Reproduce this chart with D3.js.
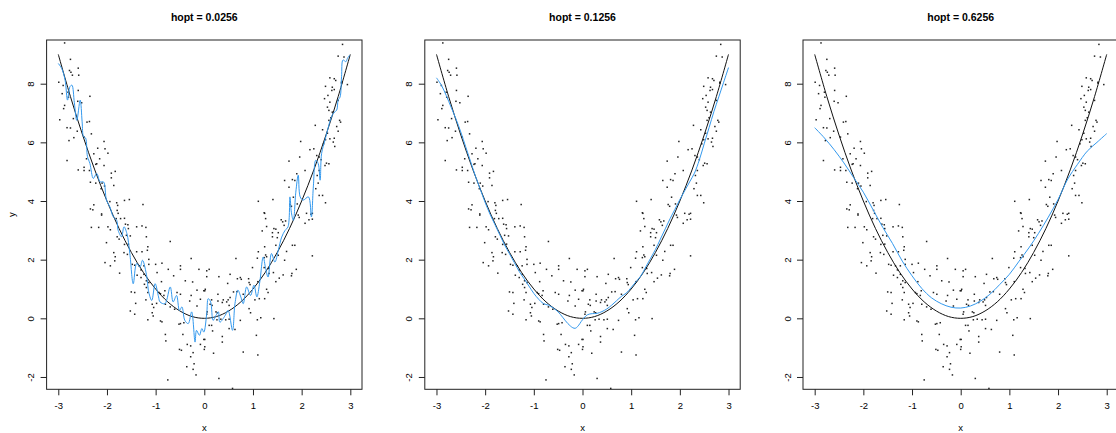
<!DOCTYPE html>
<html>
<head>
<meta charset="utf-8">
<script src="https://cdn.jsdelivr.net/npm/d3@7"></script>
<style>
  body { margin: 0; background: #fff; }
  svg { display: block; }
  text { font-family: "Liberation Sans", Arial, sans-serif; fill: #000; }
</style>
</head>
<body>
<svg id="chart" width="1116" height="433"></svg>
<script>
const titles = ["hopt = 0.0256", "hopt = 0.1256", "hopt = 0.6256"];
const xTicks = [-3, -2, -1, 0, 1, 2, 3];
const yTicks = [-2, 0, 2, 4, 6, 8];

// simulated sample
const points = [
  [-2.87,9.39],[-2.75,8.83],[-2.77,8.45],[-2.74,8.39],[-2.71,8.29],[-2.59,8.53],[-2.58,8.29],[-2.99,8.05],
  [-2.90,7.94],[-2.92,7.66],[-2.80,7.71],[-2.79,7.54],[-2.59,7.77],[-2.60,7.40],[-2.52,7.35],[-2.35,7.57],
  [-2.87,7.26],[-2.89,7.15],[-2.97,6.77],[-2.69,6.81],[-2.41,6.69],[-2.36,6.71],[-2.82,6.50],[-2.75,6.49],
  [-2.61,6.38],[-2.32,6.29],[-2.68,6.16],[-2.78,6.06],[-2.47,6.18],[-2.06,6.03],[-2.19,5.80],[-2.04,5.78],
  [-1.98,5.63],[-2.27,5.61],[-2.15,5.44],[-2.82,5.38],[-2.42,5.44],[-2.23,5.25],[-2.21,5.27],[-2.06,5.21],
  [-2.59,5.06],[-2.47,5.04],[-2.47,5.15],[-2.36,5.04],[-1.83,5.01],[-1.91,4.95],[-1.91,4.79],[-2.34,4.64],
  [-2.23,4.61],[-2.10,4.61],[-2.12,4.42],[-1.86,4.53],[-2.05,4.51],[-1.64,4.02],[-1.54,4.05],[-1.80,3.94],
  [-1.78,3.85],[-1.79,3.68],[-1.94,3.98],[-1.26,3.88],[-2.27,3.87],[-2.34,3.73],[-2.29,3.70],[-2.11,3.56],
  [-1.77,3.58],[-2.11,3.52],[-2.32,3.10],[-2.17,3.10],[-1.98,3.12],[-1.93,3.02],[-1.81,3.40],[-1.72,3.40],
  [-1.64,3.41],[-1.62,3.21],[-1.57,3.19],[-1.56,3.06],[-1.39,3.12],[-1.28,3.15],[-1.20,3.10],[-1.79,2.78],
  [-1.75,2.70],[-1.60,2.83],[-1.52,2.81],[-1.19,2.78],[-2.01,2.58],[-1.64,2.52],[-1.56,2.53],[-1.16,2.44],
  [-0.70,2.62],[-1.86,2.24],[-1.83,2.10],[-1.65,2.24],[-1.58,2.18],[-1.39,2.27],[-1.28,2.27],[-1.17,2.32],
  [-2.04,1.90],[-1.93,1.79],[-1.84,1.96],[-1.48,1.84],[-1.43,1.81],[-1.34,1.79],[-1.30,1.65],[-1.24,1.79],
  [-1.14,2.01],[-1.14,1.84],[-1.00,1.84],[-0.87,1.88],[-0.74,1.67],[-0.49,1.79],[-0.49,1.67],[-0.27,2.04],
  [-1.74,1.54],[-1.38,1.47],[-1.30,1.39],[-1.24,1.50],[-1.19,1.28],[-1.14,1.22],[-1.23,1.16],[-0.97,1.56],
  [-0.88,1.25],[-0.63,1.45],[-0.39,1.28],[-0.24,1.24],[-0.11,1.67],[-1.50,0.90],[-1.43,0.88],[-1.19,1.05],
  [-1.16,0.88],[-0.93,0.88],[-0.90,0.84],[-0.81,0.94],[-0.83,0.78],[-0.56,0.88],[-0.49,0.82],[-0.27,0.78],
  [-0.15,0.96],[-0.01,0.94],[0.02,0.99],[-1.41,0.51],[-1.20,0.63],[-1.07,0.48],[-1.04,0.37],[-0.98,0.51],
  [-0.80,0.48],[-0.70,0.39],[-0.61,0.31],[-0.30,0.59],[-0.15,0.42],[-0.08,0.65],[-1.52,0.25],[-1.43,0.14],
  [-1.16,-0.05],[-1.07,0.19],[-1.05,0.08],[-0.90,-0.09],[-0.87,-0.12],[-0.52,-0.20],[-0.49,-0.18],[-0.42,-0.15],
  [-0.80,-0.55],[-0.79,-0.77],[-0.44,-0.55],[-0.35,-0.89],[-0.28,-0.94],[-0.08,-0.89],[-0.01,-0.72],[0.00,-1.06],
  [-0.51,-1.06],[-0.47,-1.09],[-0.28,-1.31],[-0.23,-1.17],[-0.36,-1.65],[-0.21,-1.55],[-0.23,-1.74],[-0.17,-1.93],
  [-0.75,-2.10],
  [1.24,3.58],[1.26,3.40],[1.28,3.13],[1.19,2.98],[1.43,3.06],[1.47,3.04],[1.40,2.92],[1.40,2.78],
  [1.58,3.36],[1.61,3.29],[1.64,3.17],[1.67,3.32],[1.50,2.75],[1.52,2.92],[2.07,3.24],[2.15,3.36],
  [2.22,3.38],[2.19,3.55],[1.93,3.52],[1.95,3.44],[1.81,2.49],[1.86,2.49],[2.22,2.13],[1.24,2.44],
  [1.26,2.16],[1.28,2.10],[1.23,2.07],[1.11,2.27],[1.09,2.05],[1.47,2.49],[1.52,2.15],[1.65,1.98],
  [1.69,2.28],[0.65,2.04],[0.99,1.73],[1.23,1.73],[1.32,1.70],[1.33,1.53],[1.42,1.56],[1.47,1.25],
  [1.54,1.37],[1.62,1.48],[1.80,1.53],[1.79,1.45],[1.89,1.67],[0.05,1.62],[0.10,1.67],[0.05,1.42],
  [0.30,1.42],[0.53,1.50],[0.68,1.35],[0.74,1.39],[0.76,1.33],[0.48,1.19],[0.91,1.35],[0.92,1.22],
  [0.94,1.15],[1.10,1.25],[1.28,0.99],[1.31,0.88],[0.01,0.94],[0.28,0.82],[0.28,0.59],[0.60,0.90],
  [0.67,0.91],[0.80,0.82],[0.15,0.63],[0.12,0.48],[0.16,0.44],[0.37,0.54],[0.39,0.63],[0.46,0.56],
  [0.49,0.63],[0.53,0.71],[0.51,0.44],[1.04,0.63],[1.13,0.67],[1.24,0.67],[0.92,0.33],[0.95,0.19],
  [0.06,0.22],[0.05,0.14],[0.24,0.22],[0.27,0.19],[0.44,-0.05],[0.34,-0.03],[0.51,-0.03],[0.26,-0.05],
  [0.74,-0.07],[1.09,-0.05],[1.16,0.02],[1.43,-0.01],[0.10,-0.24],[0.15,-0.24],[0.17,-0.43],[0.51,-0.35],
  [0.63,-0.38],[0.01,-0.72],[0.01,-0.97],[0.37,-0.62],[0.37,-0.81],[1.07,-0.58],[0.19,-1.19],[0.80,-1.15],
  [1.10,-1.25],[0.30,-2.05],[0.58,-2.39],
  [2.84,9.34],[2.75,8.94],[2.87,8.91],[2.58,8.20],[2.67,8.17],[2.70,8.11],[2.82,8.02],[2.82,8.05],
  [2.94,7.97],[2.49,7.91],[2.63,7.88],[2.67,7.80],[2.62,7.77],[2.54,7.60],[2.47,7.49],[2.58,7.37],
  [2.75,7.43],[2.53,7.20],[2.56,7.09],[2.63,7.03],[2.78,6.75],[2.80,6.69],[2.60,6.84],[2.56,6.75],
  [2.72,6.54],[2.75,6.38],[2.28,6.58],[2.43,6.43],[2.53,6.31],[2.58,6.12],[2.67,6.14],[2.65,6.01],
  [2.68,5.86],[1.98,6.03],[2.17,5.75],[2.25,5.78],[2.49,6.09],[2.45,5.95],[1.96,5.50],[2.31,5.55],
  [2.36,5.50],[2.40,5.41],[1.74,5.36],[2.51,5.29],[2.56,5.27],[2.48,5.21],[2.07,5.04],[2.36,5.04],
  [2.32,4.87],[1.90,4.93],[1.65,4.70],[1.81,4.73],[1.86,4.70],[2.34,4.61],[1.74,4.47],[2.29,4.42],
  [2.36,4.19],[2.43,4.19],[1.83,4.13],[1.11,3.99],[1.41,4.05],[2.49,3.94],[1.76,3.88],[1.79,3.82],
  [1.91,3.90],[1.23,3.60],[2.10,3.58],[2.22,3.58]
];

// true regression function
const truthX = [-3,-2.75,-2.5,-2.25,-2,-1.75,-1.5,-1.25,-1,-0.75,-0.5,-0.25,0,0.25,0.5,0.75,1,1.25,1.5,1.75,2,2.25,2.5,2.75,3];
const truthY = [9,7.56,6.25,5.06,4,3.06,2.25,1.56,1,0.56,0.25,0.06,0,0.06,0.25,0.56,1,1.56,2.25,3.06,4,5.06,6.25,7.56,9];

// kernel fits for the three bandwidths
const fitSmall = [
  [-3.00,8.69],[-2.93,8.52],[-2.86,8.12],[-2.81,7.44],[-2.76,7.90],[-2.72,7.95],[-2.67,7.35],[-2.62,6.75],
  [-2.55,7.44],[-2.51,6.70],[-2.48,6.19],[-2.44,6.15],[-2.40,5.51],[-2.35,5.28],[-2.28,4.77],[-2.21,4.94],
  [-2.14,4.65],[-2.07,4.65],[-2.01,4.03],[-1.94,3.80],[-1.87,3.46],[-1.80,3.34],[-1.77,3.00],[-1.70,2.78],
  [-1.65,3.12],[-1.59,2.89],[-1.53,2.21],[-1.46,1.18],[-1.39,1.87],[-1.32,1.75],[-1.27,1.98],[-1.18,1.41],
  [-1.15,0.96],[-1.08,0.61],[-1.01,1.18],[-0.94,0.73],[-0.91,0.56],[-0.81,0.50],[-0.70,1.07],[-0.64,0.56],
  [-0.57,0.78],[-0.51,0.27],[-0.46,0.39],[-0.40,-0.07],[-0.33,-0.18],[-0.26,0.22],[-0.19,-0.81],[-0.16,-0.41],
  [-0.10,-0.58],[-0.05,-0.35],[-0.01,-0.47],[0.05,0.16],[0.08,0.67],[0.13,0.56],[0.18,-0.07],[0.24,0.10],
  [0.29,0.22],[0.32,-0.13],[0.43,0.10],[0.49,0.27],[0.58,-0.41],[0.63,0.50],[0.69,0.96],[0.75,0.73],
  [0.80,0.50],[0.87,1.07],[0.95,0.78],[1.02,1.13],[1.08,0.73],[1.14,1.24],[1.21,2.09],[1.26,1.70],
  [1.31,1.41],[1.38,2.21],[1.45,1.92],[1.52,2.32],[1.59,2.77],[1.66,3.00],[1.72,3.12],[1.76,4.14],
  [1.79,3.60],[1.83,3.34],[1.88,4.30],[1.93,4.88],[1.97,4.14],[2.03,4.03],[2.14,4.14],[2.20,3.46],
  [2.24,4.48],[2.29,5.39],[2.34,5.28],[2.38,4.71],[2.41,5.62],[2.48,6.08],[2.55,6.53],[2.59,6.76],
  [2.65,6.99],[2.72,7.10],[2.75,7.44],[2.79,7.55],[2.82,8.24],[2.85,8.81],[2.91,8.75],[2.94,8.86],[2.99,8.98]
];
const fitMid = [
  [-3.0,8.2],[-2.9,7.95],[-2.8,7.6],[-2.7,7.2],[-2.6,6.8],[-2.5,6.35],[-2.4,5.85],[-2.3,5.35],[-2.2,4.85],
  [-2.1,4.4],[-2.0,3.95],[-1.9,3.55],[-1.8,3.2],[-1.7,2.85],[-1.6,2.5],[-1.5,2.2],[-1.4,1.9],[-1.3,1.6],
  [-1.2,1.35],[-1.1,1.1],[-1.0,0.85],[-0.9,0.65],[-0.8,0.5],[-0.7,0.45],[-0.6,0.35],[-0.5,0.22],[-0.4,0.02],
  [-0.3,-0.18],[-0.2,-0.32],[-0.15,-0.34],[-0.1,-0.28],[0.0,-0.05],[0.1,0.12],[0.2,0.16],[0.3,0.17],
  [0.4,0.23],[0.5,0.32],[0.6,0.45],[0.7,0.6],[0.8,0.75],[0.9,0.86],[1.0,1.05],[1.1,1.25],[1.2,1.45],
  [1.3,1.75],[1.4,2.05],[1.5,2.35],[1.6,2.7],[1.7,3.05],[1.8,3.4],[1.9,3.72],[2.0,4.05],[2.1,4.35],
  [2.2,4.65],[2.3,4.95],[2.4,5.4],[2.5,5.95],[2.6,6.5],[2.7,7.05],[2.8,7.55],[2.9,8.05],[3.0,8.55]
];
const fitLarge = [
  [-3.0,6.5],[-2.8,6.15],[-2.6,5.75],[-2.4,5.3],[-2.2,4.8],[-2.0,4.3],[-1.8,3.7],[-1.6,3.1],[-1.4,2.55],
  [-1.2,1.95],[-1.0,1.45],[-0.8,1.02],[-0.6,0.7],[-0.4,0.5],[-0.2,0.38],[0.0,0.35],[0.2,0.42],[0.4,0.58],
  [0.6,0.82],[0.8,1.15],[1.0,1.5],[1.2,1.95],[1.4,2.4],[1.6,2.9],[1.8,3.45],[2.0,4.05],[2.2,4.75],
  [2.4,5.25],[2.6,5.7],[2.8,6.0],[3.0,6.3]
];
const fits = [fitSmall, fitMid, fitLarge];

const svg = d3.select("#chart");
const plotTop = 40, plotBottom = 389.3, step = 378.2, boxW = 315.4, firstLeft = 46.6;
const blue = "#3399ee";

const y = d3.scaleLinear().domain([-2.42, 9.49]).range([plotBottom, plotTop]);

titles.forEach((title, i) => {
  const left = firstLeft + i * step;
  const x = d3.scaleLinear().domain([-3.24, 3.24]).range([left, left + boxW]);
  const g = svg.append("g");

  // points
  g.append("g")
    .selectAll("rect")
    .data(points)
    .join("rect")
    .attr("x", d => x(d[0]) - 0.75)
    .attr("y", d => y(d[1]) - 0.75)
    .attr("width", 1.5)
    .attr("height", 1.5)
    .attr("fill", "#222");

  // true curve
  const truth = truthX.map((v, k) => [v, truthY[k]]);
  g.append("path")
    .datum(truth)
    .attr("fill", "none")
    .attr("stroke", "#111")
    .attr("stroke-width", 1)
    .attr("d", d3.line().x(d => x(d[0])).y(d => y(d[1])).curve(d3.curveCatmullRom));

  // fitted curve
  g.append("path")
    .datum(fits[i])
    .attr("fill", "none")
    .attr("stroke", blue)
    .attr("stroke-width", 1)
    .attr("d", d3.line().x(d => x(d[0])).y(d => y(d[1])).curve(d3.curveCatmullRom));

  // box
  g.append("rect")
    .attr("x", left)
    .attr("y", plotTop)
    .attr("width", boxW)
    .attr("height", plotBottom - plotTop)
    .attr("fill", "none")
    .attr("stroke", "#222")
    .attr("stroke-width", 1);

  // x axis
  const xa = g.append("g")
    .attr("transform", `translate(0,${plotBottom})`)
    .call(d3.axisBottom(x).tickValues(xTicks).tickSize(6).tickSizeOuter(0).tickFormat(d3.format("d")));
  xa.select(".domain").remove();
  xa.selectAll("line").attr("stroke", "#222");
  xa.selectAll("text")
    .attr("y", 13)
    .attr("font-size", 9.5)
    .text(d => d < 0 ? "-" + Math.abs(d) : d);

  // y axis
  const ya = g.append("g")
    .attr("transform", `translate(${left},0)`)
    .call(d3.axisLeft(y).tickValues(yTicks).tickSize(6).tickSizeOuter(0));
  ya.select(".domain").remove();
  ya.selectAll("line").attr("stroke", "#222");
  ya.selectAll("text")
    .attr("x", 0)
    .attr("y", -12.5)
    .attr("dy", 0)
    .attr("transform", "rotate(-90)")
    .attr("text-anchor", "middle")
    .attr("font-size", 9.5)
    .text(d => d < 0 ? "-" + Math.abs(d) : d);

  // title
  g.append("text")
    .attr("x", left + boxW / 2)
    .attr("y", 21)
    .attr("text-anchor", "middle")
    .attr("font-weight", "bold")
    .attr("font-size", 10.5)
    .text(title);

  // x label
  g.append("text")
    .attr("x", left + boxW / 2)
    .attr("y", 431)
    .attr("text-anchor", "middle")
    .attr("font-size", 9.5)
    .text("x");

  if (i === 0) {
    g.append("text")
      .attr("transform", `translate(15,${(plotTop + plotBottom) / 2}) rotate(-90)`)
      .attr("text-anchor", "middle")
      .attr("font-size", 9.5)
      .text("y");
  }
});
</script>
</body>
</html>
